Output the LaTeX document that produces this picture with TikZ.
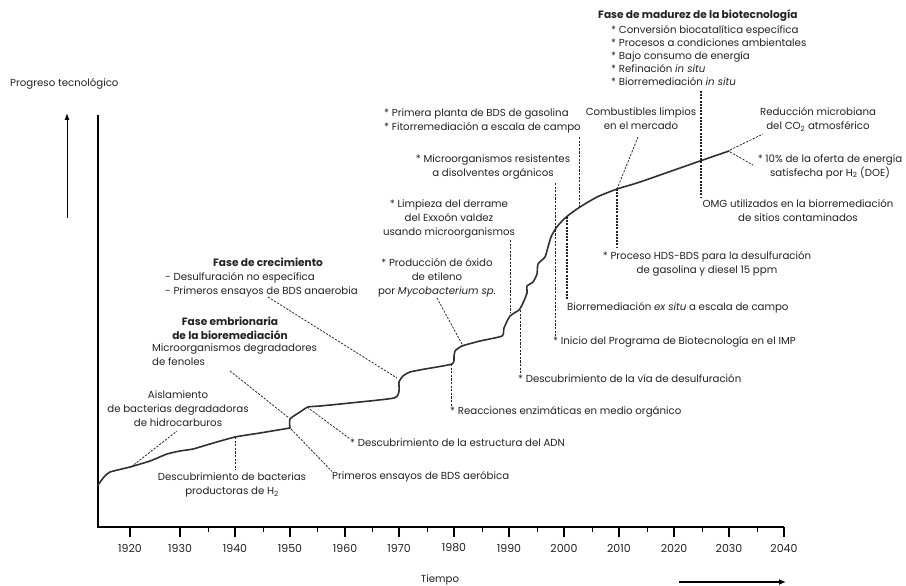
\documentclass[tikz,border=0pt]{standalone}
\usepackage{fontspec}
\setmainfont{Poppins}
\usetikzlibrary{arrows.meta}
\definecolor{ink}{HTML}{222222}
\definecolor{curveink}{HTML}{303030}
\begin{document}
\begin{tikzpicture}[x=1pt,y=-1pt,
  font=\fontsize{10.2}{14}\selectfont,
  lbl/.style={inner sep=0pt, text=ink},
  head/.style={lbl, font=\fontsize{10.6}{13.5}\selectfont\bfseries},
  lead/.style={draw=ink, line width=0.75pt, dash pattern=on 2.2pt off 1.4pt},
  heavylead/.style={draw=ink, line width=1.5pt, dash pattern=on 2pt off 1.2pt},
  axisline/.style={draw=black, line width=2pt},
  majortick/.style={draw=black, line width=1.4pt},
  minortick/.style={draw=black, line width=1pt},
  yearlbl/.style={lbl, font=\fontsize{11}{12}\selectfont},
  growth/.style={draw=curveink, line width=1.6pt, line join=round, line cap=round}
]
\useasboundingbox (0,0) rectangle (906,586);

% axes
\coordinate (origin) at (98,527);
\coordinate (ytop) at (98,115);
\coordinate (xend) at (784,527);
\draw[axisline] (ytop) -- (origin) -- (xend);

% ticks and year labels
\foreach \xx/\yr in {130/1920,180/1930,235/1940,290/1950,345/1960,399/1970,454/1980,509/1990,564/2000,619/2010,674/2020,729/2030,784/2040}{
  \draw[majortick] (\xx,527) -- (\xx,537);
  \node[yearlbl] (yr\yr) at (\xx,548) {\yr};
}
\foreach \xx in {208,263,317,372,427,482,537,592,647,702,757}{
  \draw[minortick] (\xx,527) -- (\xx,532);
}

% axis titles and direction arrows
\node[lbl, anchor=west] (prog) at (10,84) {Progreso tecnológico};
\coordinate (upa) at (67,218);
\coordinate (upb) at (67,113);
\draw[line width=1pt, -{Latex[length=7pt,width=5pt]}] (upa) -- (upb);
\node[lbl] (tiempo) at (440,580) {Tiempo};
\coordinate (ra) at (679,582);
\coordinate (rb) at (786,582);
\draw[line width=1.6pt, -{Latex[length=7pt,width=6pt]}] (ra) -- (rb);

% growth curve
\draw[growth] plot[smooth, tension=0.35] coordinates {
 (98,485) (104,477) (110,472) (130,467) (150,461) (167,454) (180,451) (193,449)
 (210,444) (235,437) (260,433) (290,428)};
\draw[growth] plot[smooth, tension=0.35] coordinates {
 (290,428) (290,419) (300,412) (308,407) (320,406) (350,403) (394,398)
 (399,391) (399,382) (403,376) (410,372) (425,369) (452,364)
 (454,357) (455,351) (462,346) (480,341) (502,336)
 (504,328) (510,316) (519,310) (523,303) (527,293) (527,286) (533,282)
 (537,274) (538,264) (545,257) (548,247) (551,237) (556,228) (563,220)
 (570,214) (580,207) (597,197) (617,189) (640,182) (700,161) (729,151)};

% points on the curve
\coordinate (c1920) at (131,467);
\coordinate (c1940) at (235,437);
\coordinate (c1950a) at (289,418);
\coordinate (c1950b) at (291,429);
\coordinate (c1953) at (307,407);
\coordinate (c1970) at (397,378);
\coordinate (c1980a) at (463,346);
\coordinate (c1980b) at (451,364);
\coordinate (c1990) at (510,313);
\coordinate (c1992) at (520,310);
\coordinate (c2001) at (567,217);
\coordinate (c2003) at (579,208);
\coordinate (c2010) at (617,189);
\coordinate (c2030a) at (730,150);
\coordinate (c2030b) at (730,152);

% --- labels and leader lines ---
\node[lbl, align=center, anchor=north] (aisl) at (178,391) {Aislamiento\\de bacterias degradadoras\\de hidrocarburos};
\coordinate (aislend) at (177,431);
\draw[lead] (c1920) -- (aislend);

\node[lbl, align=center, anchor=north] (bactH) at (232,473) {Descubrimiento de bacterias\\productoras de H\textsubscript{2}};
\coordinate (bactHend) at (235,470);
\draw[lead] (c1940) -- (bactHend);

\node[head, align=center, anchor=north] (embr) at (230,317) {Fase embrionaria\\de la bioremediación};
\node[lbl, align=left, anchor=north west] (fenol) at (152,344) {Microorganismos degradadores\\de fenoles};
\coordinate (fenolend) at (230,371);
\draw[lead] (fenolend) -- (c1950a);

\node[lbl, anchor=west] (aerob) at (332,477) {Primeros ensayos de BDS aeróbica};
\draw[lead] (c1950b) -- (aerob.north west);

\node[lbl, anchor=west] (adn) at (350,443) {* Descubrimiento de la estructura del ADN};
\draw[lead] (c1953) -- (adn.north west);

\node[head, anchor=north] (crec) at (268,258) {Fase de crecimiento};
\node[lbl, align=left, anchor=north west] (crecb) at (165,272) {- Desulfuración no específica\\- Primeros ensayos de BDS anaerobia};
\coordinate (crecend) at (268,297);
\draw[lead] (crecend) -- (c1970);

\node[lbl, align=center, anchor=north] (etil) at (437,258) {* Producción de óxido\\de etileno\\por \textit{Mycobacterium sp.}};
\coordinate (etilend) at (437,298);
\draw[lead] (etilend) -- (c1980a);

\node[lbl, anchor=west] (enz) at (450,412) {* Reacciones enzimáticas en medio orgánico};
\coordinate (enzend) at (451,407);
\draw[lead] (c1980b) -- (enzend);

\node[lbl, align=center, anchor=north] (exxon) at (449,200) {* Limpieza del derrame\\del Exxoón valdez\\usando microorganismos};
\coordinate (exxonend) at (510,240);
\draw[lead] (exxonend) -- (c1990);

\node[lbl, anchor=west] (via) at (518,379) {* Descubrimiento de la vía de desulfuración};
\coordinate (viaend) at (520,374);
\draw[lead] (c1992) -- (viaend);

\node[lbl, align=center, anchor=north] (resist) at (493,155) {* Microorganismos resistentes\\a disolventes orgánicos};
\node[lbl, anchor=west] (imp) at (553,342) {* Inicio del Programa de Biotecnología en el IMP};
\coordinate (resa) at (555,183);
\coordinate (resb) at (555,337);
\draw[lead] (resa) -- (resb);

\node[lbl, align=left, anchor=north west] (planta) at (384,109) {* Primera planta de BDS de gasolina\\* Fitorremediación a escala de campo};
\coordinate (plantaend) at (579,137);
\draw[lead] (plantaend) -- (c2003);

\node[lbl, align=center, anchor=north] (combust) at (641,108) {Combustibles limpios\\en el mercado};
\coordinate (combustend) at (638,137);
\draw[lead] (combustend) -- (c2010);

\node[lbl, align=center, anchor=north] (hds) at (707,251) {* Proceso HDS-BDS para la desulfuración\\de gasolina y diesel 15 ppm};
\coordinate (hdsend) at (617,248);
\draw[heavylead] (c2010) -- (hdsend);

\node[lbl, anchor=west] (exsitu) at (567,308) {Biorremediación \textit{ex situ} a escala de campo};
\coordinate (exsituend) at (567,300);
\draw[heavylead] (c2001) -- (exsituend);

\node[head, anchor=west] (madurez) at (598,16) {Fase de madurez de la biotecnología};
\node[lbl, align=left, anchor=north west, font=\fontsize{10.2}{13}\selectfont] (madlist) at (611,25) {* Conversión biocatalítica específica\\* Procesos a condiciones ambientales\\* Bajo consumo de energía\\* Refinación \textit{in situ}\\* Biorremediación \textit{in situ}};
\node[lbl, align=center, anchor=north] (omg) at (798,199) {OMG utilizados en la biorremediación\\de sitios contaminados};
\coordinate (mada) at (701,91);
\coordinate (madb) at (701,198);
\draw[heavylead] (mada) -- (madb);

\node[lbl, align=center, anchor=north] (reduc) at (818,107) {Reducción microbiana\\del CO\textsubscript{2} atmosférico};
\coordinate (reducend) at (763,134);
\draw[lead] (c2030a) -- (reducend);

\node[lbl, align=center, anchor=north] (oferta) at (830,154) {* 10\% de la oferta de energía\\satisfecha por H\textsubscript{2} (DOE)};
\coordinate (ofertaend) at (753,165);
\draw[lead] (c2030b) -- (ofertaend);
\end{tikzpicture}
\end{document}
